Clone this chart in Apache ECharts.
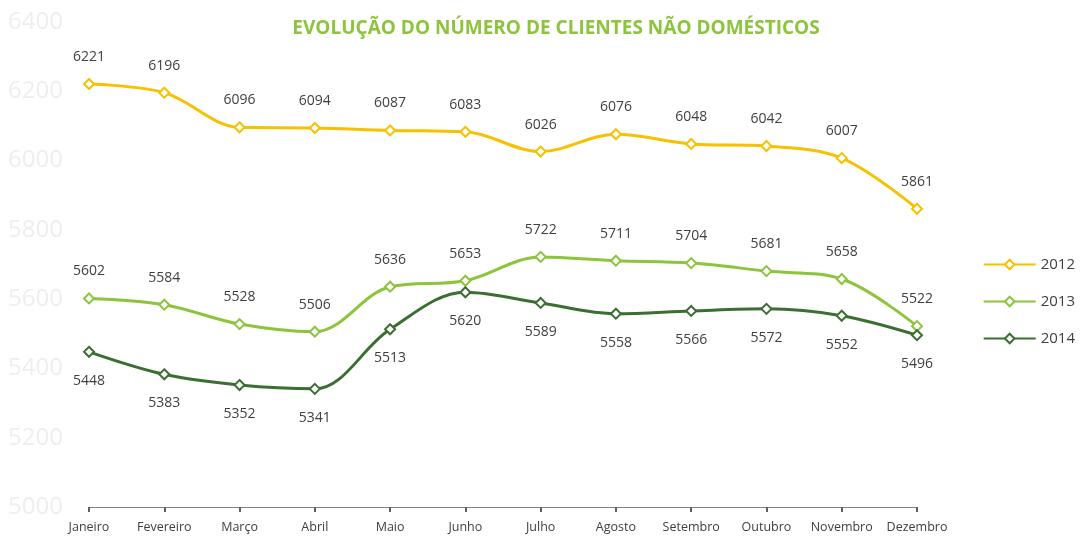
<!DOCTYPE html>
<html>
<head>
<meta charset="utf-8">
<script src="https://cdn.jsdelivr.net/npm/echarts@6/dist/echarts.min.js"></script>
<style>
html, body { margin: 0; padding: 0; background: #fff; }
#chart { width: 1082px; height: 536px; }
</style>
</head>
<body>
<div id="chart"></div>
<script>
var months = ['Janeiro', 'Fevereiro', 'Março', 'Abril', 'Maio', 'Junho', 'Julho', 'Agosto', 'Setembro', 'Outubro', 'Novembro', 'Dezembro'];
var clientes2012 = [6221, 6196, 6096, 6094, 6087, 6083, 6026, 6076, 6048, 6042, 6007, 5861];
var clientes2013 = [5602, 5584, 5528, 5506, 5636, 5653, 5722, 5711, 5704, 5681, 5658, 5522];
var clientes2014 = [5448, 5383, 5352, 5341, 5513, 5620, 5589, 5558, 5566, 5572, 5552, 5496];

var font = '"Open Sans", "Noto Sans", sans-serif';

function serie(name, data, color, pos) {
	return {
		name: name,
		type: 'line',
		smooth: 0.35,
		data: data,
		symbol: 'emptyDiamond',
		symbolSize: 10,
		lineStyle: { color: color, width: 3 },
		itemStyle: { color: color, borderWidth: 2 },
		label: {
			show: true,
			position: pos,
			distance: pos == 'top' ? 14 : 16,
			color: '#404040',
			fontSize: 14,
			fontFamily: font
		}
	};
}

var myChart = echarts.init(document.getElementById('chart'));
var option = {
	backgroundColor: '#fff',
	title: {
		text: 'EVOLUÇÃO DO NÚMERO DE CLIENTES NÃO DOMÉSTICOS',
		left: 551,
		textAlign: 'center',
		top: 14,
		textStyle: { color: '#8cc43c', fontSize: 19, fontWeight: 'bold', fontFamily: font }
	},
	legend: {
		orient: 'vertical',
		right: 2,
		top: 252,
		itemWidth: 52,
		itemHeight: 12,
		itemGap: 22,
		textStyle: { color: '#404040', fontSize: 15, fontFamily: font },
		data: ['2012', '2013', '2014']
	},
	grid: { left: 89, right: 165, top: 22, bottom: 29 },
	xAxis: {
		type: 'category',
		boundaryGap: false,
		data: months,
		axisLine: { lineStyle: { color: '#808080', width: 1 } },
		axisTick: { show: true, length: 5, lineStyle: { color: '#606060', width: 2 } },
		axisLabel: { interval: 0, color: '#404040', fontSize: 12.5, fontFamily: font, margin: 14 }
	},
	yAxis: {
		type: 'value',
		min: 5000,
		max: 6400,
		interval: 200,
		splitLine: { show: false },
		axisLine: { show: false },
		axisTick: { show: false },
		axisLabel: {
			color: '#eeeeee', fontSize: 24, fontFamily: font, margin: 26,
			formatter: function (v) { return String(v); }
		}
	},
	series: [
		serie('2012', clientes2012, '#f7c000', 'top'),
		serie('2013', clientes2013, '#8cc43c', 'top'),
		serie('2014', clientes2014, '#3b6e32', 'bottom')
	]
};
myChart.setOption(option);
</script>
</body>
</html>
